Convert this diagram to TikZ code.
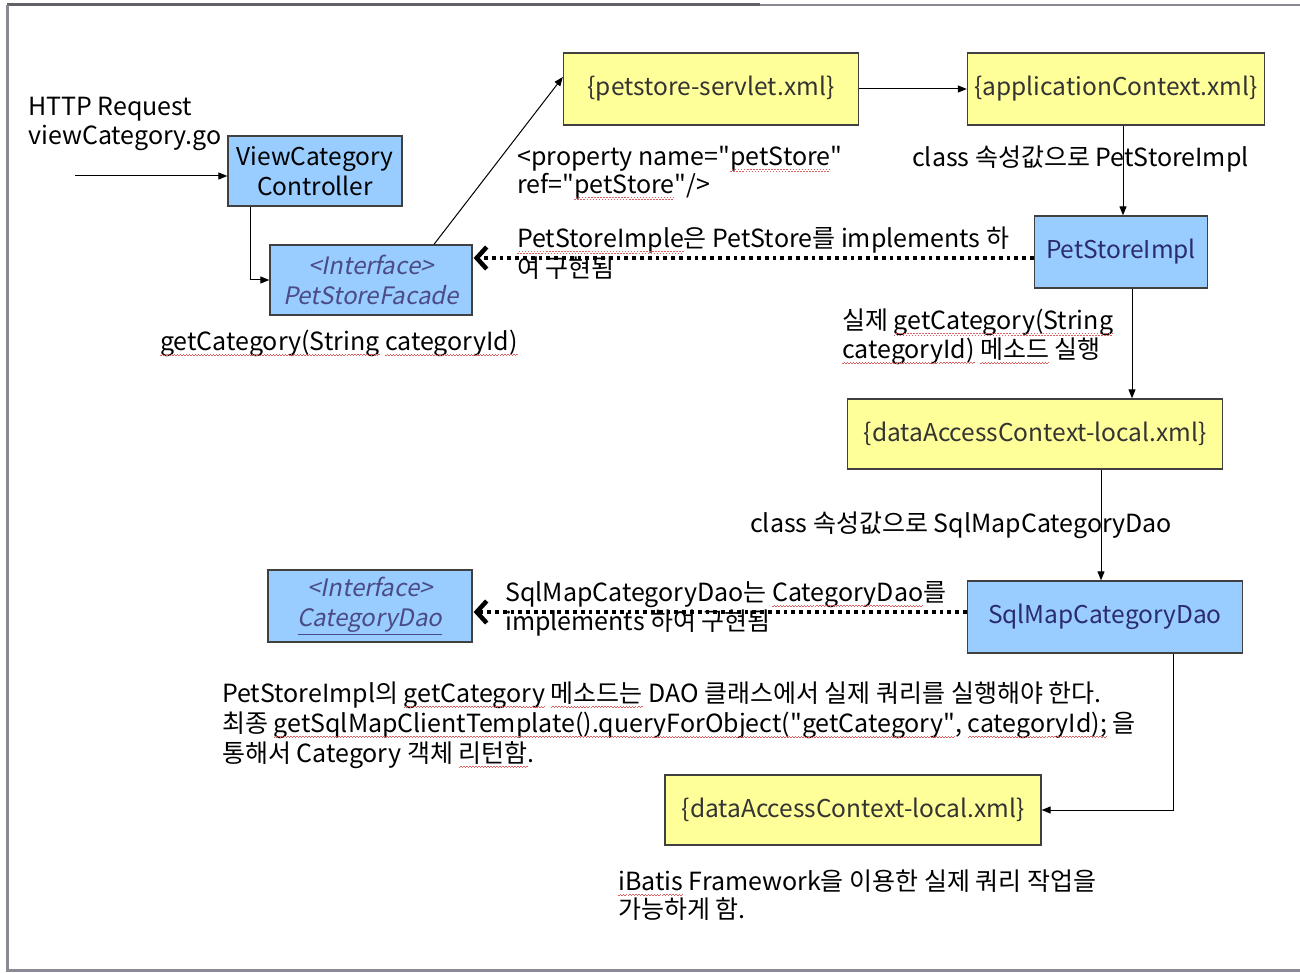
\documentclass[tikz,border=0pt]{standalone}
\usepackage{fontspec}
\setmainfont{Noto Sans CJK KR}[Ligatures=TeXOff]
\newfontfamily\slantfont{Noto Sans CJK KR}[FakeSlant=0.2]
\usetikzlibrary{arrows.meta}
\definecolor{boxblue}{HTML}{99CCFF}
\definecolor{boxyellow}{HTML}{FFFF99}
\definecolor{navy}{HTML}{2B2B70}
\definecolor{framegray}{HTML}{8A8A94}
\definecolor{spellred}{HTML}{E06060}
\newsavebox\spbox
\newcommand\spellmark[1]{\sbox\spbox{#1}\usebox\spbox\llap{\color{spellred}\hbox to \wd\spbox{\xleaders\hbox{\raisebox{-6pt}{\rule{1.5pt}{1pt}}\raisebox{-4.5pt}{\rule{1.5pt}{1pt}}}\hfill}}}
\tikzset{
  txt/.style={anchor=base west, inner sep=0pt, font=\fontsize{25}{30}\selectfont},
  bluebox/.style={draw=black!75, line width=1.3pt, fill=boxblue, inner sep=0pt, align=center, font=\fontsize{24.5}{30}\selectfont},
  yellowbox/.style={draw=black!75, line width=1.3pt, fill=boxyellow, inner sep=0pt, align=center, font=\fontsize{24.5}{30}\selectfont},
  ifacebox/.style={bluebox, text=navy!85, font=\fontsize{24}{30}\slantfont},
  conn/.style={line width=1pt, -{Triangle[length=9pt,width=7pt]}},
  impl/.style={line width=3.8pt, dash pattern=on 3.8pt off 4pt, -{Straight Barb[length=10pt,width=22pt,line width=4.5pt]}, shorten >=1pt},
}
\begin{document}
\begin{tikzpicture}[x=1pt,y=-1pt]
\useasboundingbox (0,0) rectangle (1300,973);
\fill[white] (0,0) rectangle (1300,973);
% frame
\draw[framegray, line width=2pt] (7,5) -- (1300,5);
\draw[framegray!70!black, line width=3pt] (7,5) -- (760,5);
\draw[framegray, line width=3pt] (7,5) -- (7,970) -- (1300,970);

% boxes
\node[bluebox, minimum width=174pt, minimum height=70pt] (vc) at (315,171) {ViewCategory\\Controller};
\node[ifacebox, minimum width=202pt, minimum height=70pt] (psf) at (371,280) {<Interface>\\PetStoreFacade};
\node[yellowbox, minimum width=295pt, minimum height=72pt, text=black!80] (psx) at (711,89) {\{petstore-servlet.xml\}};
\node[yellowbox, minimum width=297pt, minimum height=72pt, text=black!80] (acx) at (1116,89) {\{applicationContext.xml\}};
\node[bluebox, minimum width=173pt, minimum height=72pt, text=navy] (psi) at (1121,252) {PetStoreImpl};
\node[yellowbox, minimum width=375pt, minimum height=70pt, text=black!80] (dac1) at (1035,434) {\{dataAccessContext-local.xml\}};
\node[bluebox, minimum width=275pt, minimum height=72pt, text=navy] (smd) at (1105,617) {SqlMapCategoryDao};
\node[ifacebox, minimum width=204pt, minimum height=72pt] (cd) at (370,606) {<Interface>\\\underline{CategoryDao}};
\node[yellowbox, minimum width=376pt, minimum height=70pt, text=black!80] (dac2) at (853,810) {\{dataAccessContext-local.xml\}};

% texts
\node[txt] (t1) at (28,116) {HTTP Request};
\node[txt] (t2) at (28,145) {viewCategory.go};
\node[txt] (t3) at (160,350) {\spellmark{getCategory(String} \spellmark{categoryId)}};
\node[txt] (t4) at (517,166) {<property name="\spellmark{petStore}"};
\node[txt] (t5) at (517,194) {ref="\spellmark{petStore}"/>};
\node[txt] (t6) at (912,167) {class 속성값으로 PetStoreImpl};
\node[txt] (t7) at (517,248) {\spellmark{PetStoreImple}은 PetStore를 implements 하};
\node[txt] (t8) at (517,278) {여 구현됨};
\node[txt] (t9) at (842,330) {실제 \spellmark{getCategory(String}};
\node[txt] (t10) at (842,358) {\spellmark{categoryId)} \spellmark{메소드} 실행};
\node[txt] (t11) at (750,532) {class 속성값으로 SqlMapCategoryDao};
\node[txt] (t12) at (505,601) {SqlMapCategoryDao는 \spellmark{CategoryDao}를};
\node[txt] (t13) at (505,630) {implements 하여 구현됨};
\node[txt] (t14) at (222,702) {PetStoreImpl의 \spellmark{getCategory} \spellmark{메소드는} DAO 클래스에서 실제 쿼리를 실행해야 한다.};
\node[txt] (t15) at (222,732) {최종 \spellmark{getSqlMapClientTemplate().queryForObject("getCategory"}, \spellmark{categoryId);} 을};
\node[txt] (t16) at (222,762) {통해서 Category 객체 \spellmark{리턴함}.};
\node[txt] (t17) at (618,890) {\spellmark{iBatis} Framework을 이용한 실제 쿼리 작업을};
\node[txt] (t18) at (618,918) {가능하게 함.};

% connectors
\coordinate (in) at (75,176);
\draw[conn] (in) -- (vc.west |- in);
\draw[conn] (vc.south -| 250,0) |- (psf.west);
\draw[conn] (psf.north -| 434,0) -- ([yshift=12pt]psx.west);
\draw[conn] (psx.east) -- (acx.west);
\draw[conn] (acx.south -| 1123,0) -- (psi.north -| 1123,0);
\draw[conn] (psi.south -| 1132,0) -- (dac1.north -| 1132,0);
\draw[conn] (dac1.south -| 1101,0) -- (smd.north -| 1101,0);
\draw[conn] (smd.south -| 1173,0) |- (dac2.east);
\draw[impl] (psi.west |- 0,258) -- (psf.east |- 0,258);
\draw[impl] (smd.west |- 0,612) -- (cd.east |- 0,612);
\end{tikzpicture}
\end{document}
